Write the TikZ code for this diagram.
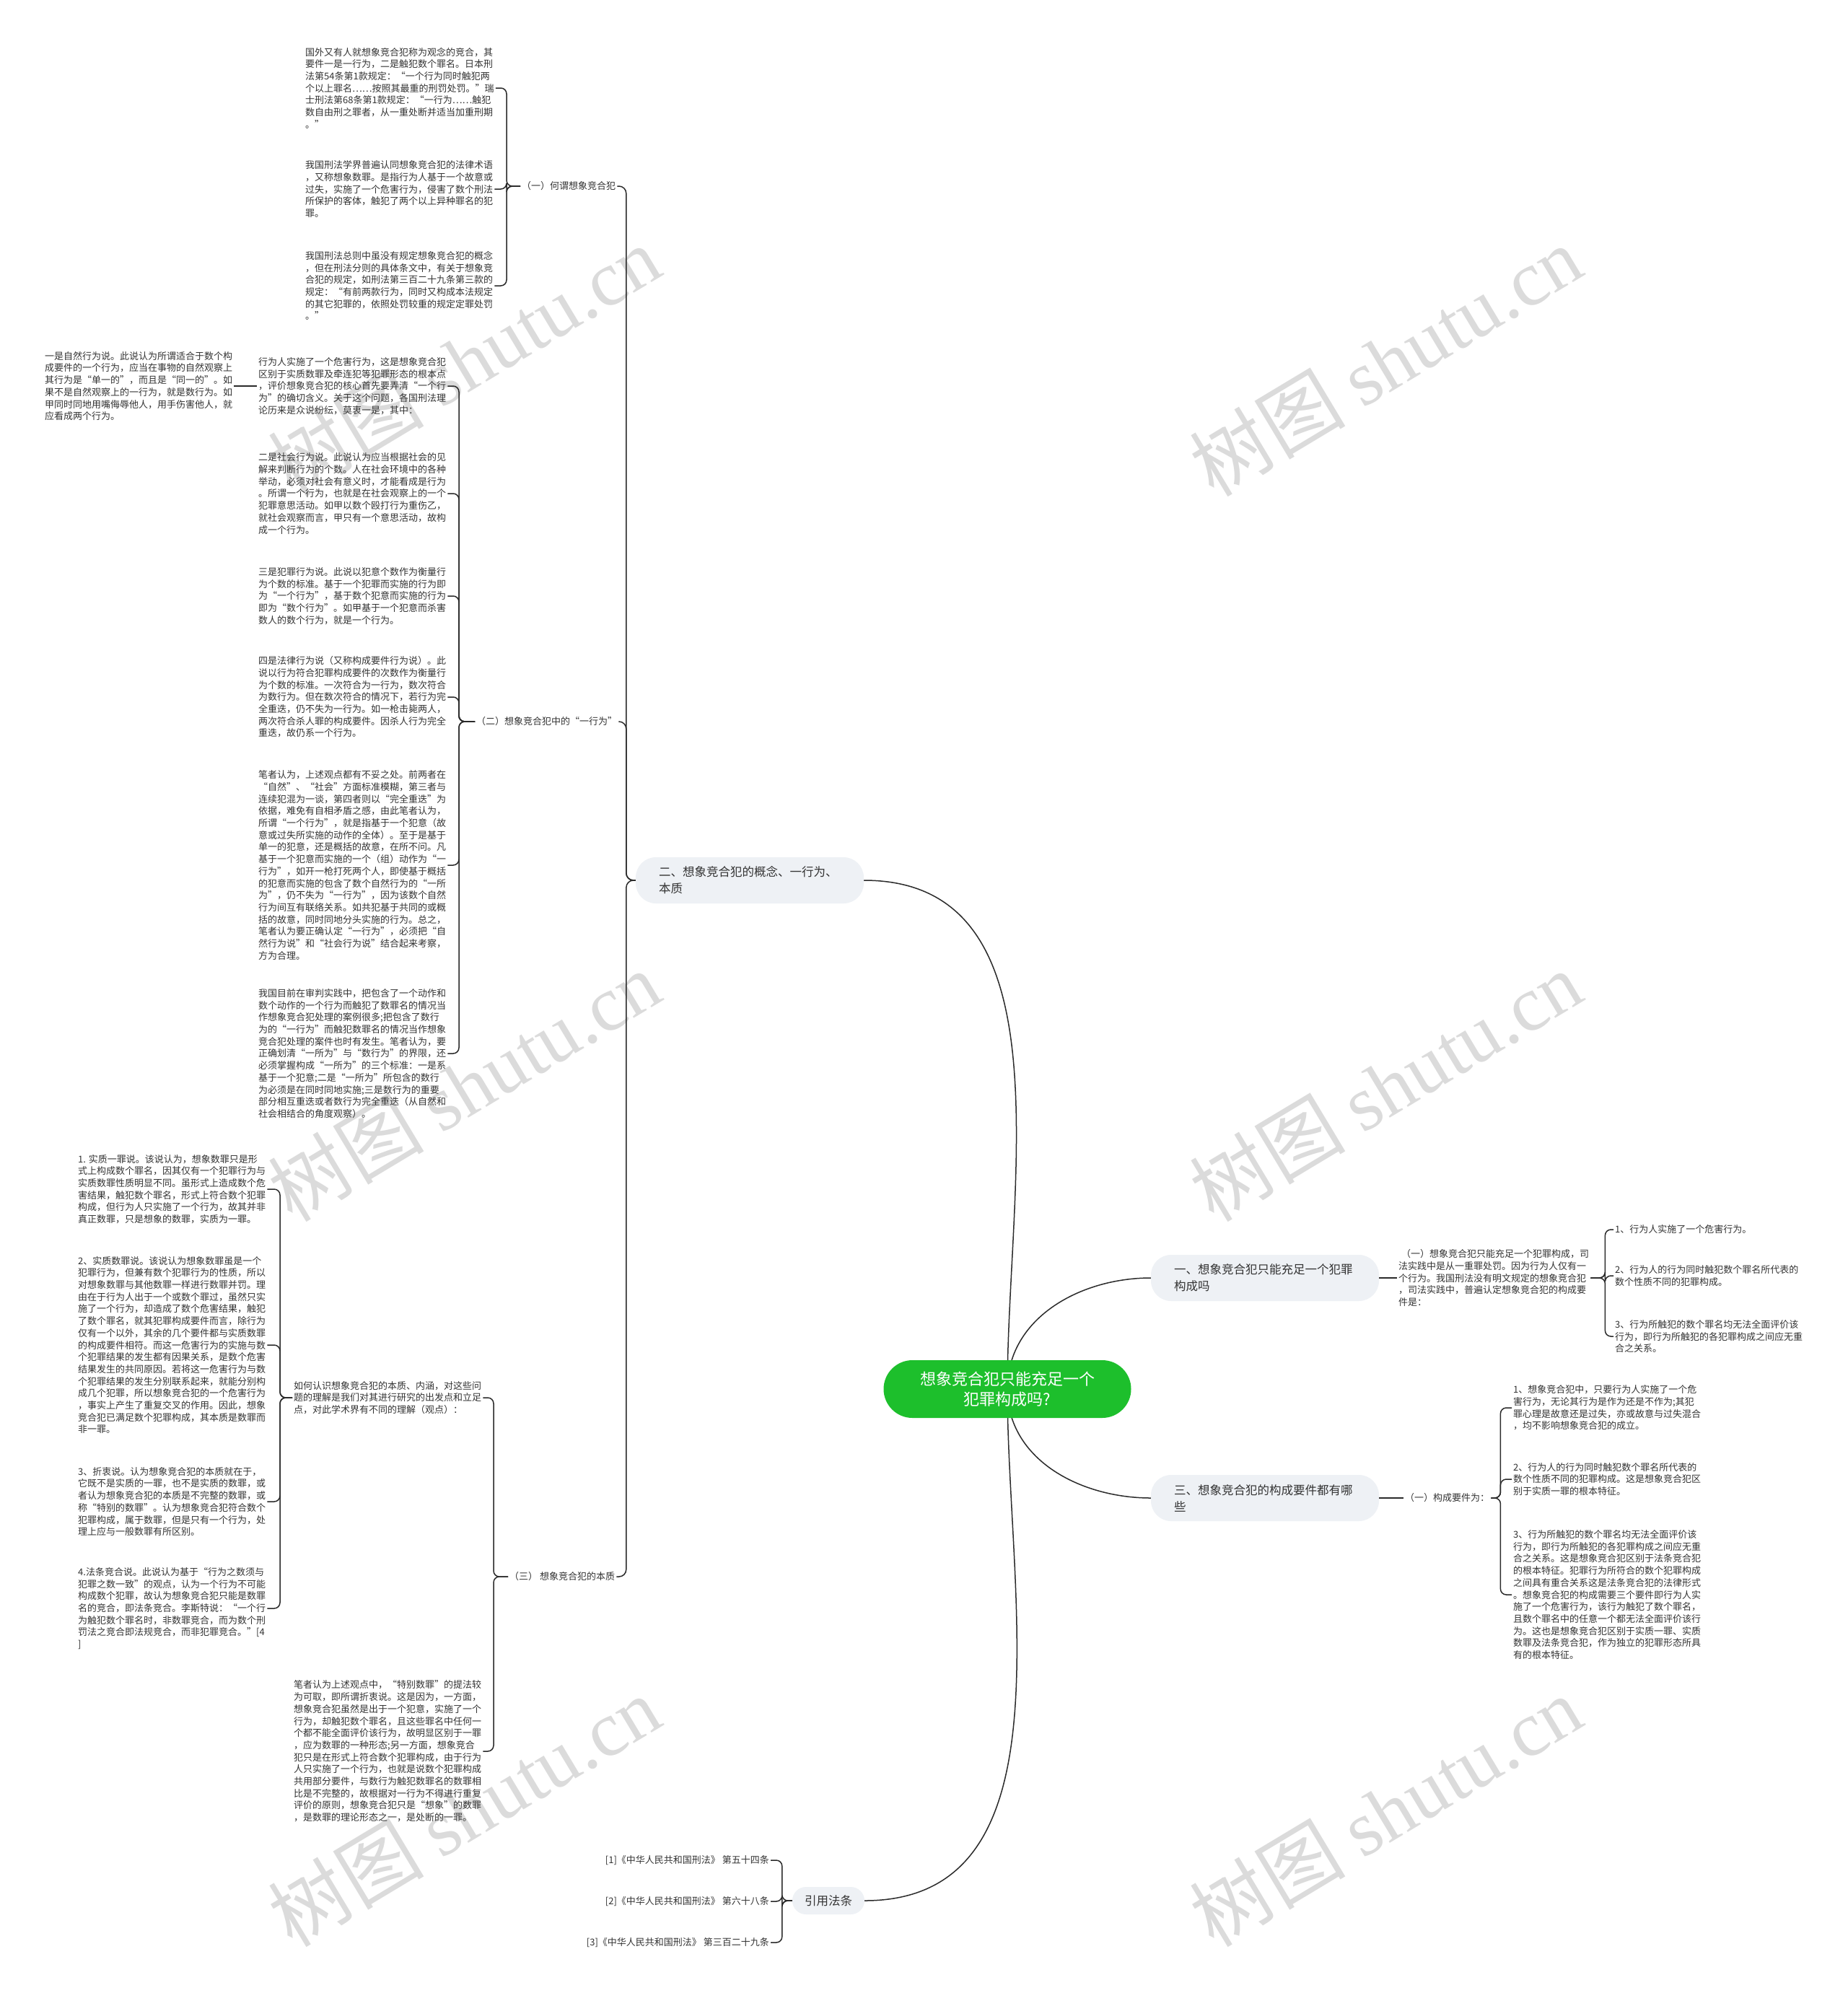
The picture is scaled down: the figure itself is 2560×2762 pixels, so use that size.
\documentclass[tikz,border=0pt]{standalone}
\usepackage{fontspec}
\setmainfont{Noto Sans CJK SC}
\newfontfamily\wmfont{Liberation Serif}
\usetikzlibrary{backgrounds}
\definecolor{rootgreen}{HTML}{1DBF2C}
\definecolor{topicfill}{HTML}{EEF1F5}
\definecolor{inkc}{HTML}{333333}
\definecolor{linec}{HTML}{2A2A2A}

\begin{document}
\begin{tikzpicture}[x=1pt, y=-1pt,
		root/.style={rectangle, rounded corners=40pt, fill=rootgreen, text=white, align=center, minimum width=343pt, minimum height=80pt, font=\fontsize{22}{28}\selectfont},
		topic/.style={rectangle, rounded corners=28pt, fill=topicfill, text=inkc, text width=252pt, align=left, inner xsep=32pt, minimum height=64pt, font=\fontsize{16.5}{23}\selectfont},
		tag/.style={rectangle, rounded corners=19pt, fill=topicfill, text=inkc, inner xsep=17pt, minimum height=38pt, font=\fontsize{16.5}{23}\selectfont},
		leaf/.style={align=left, inner sep=2pt, text=inkc, font=\fontsize{13}{16.7}\selectfont},
		link/.style={draw=linec, line width=1.5pt},
		bracket/.style={draw=linec, line width=1.5pt, rounded corners=8pt},
		wmark/.style={rotate=31, text=black, opacity=0.14, font=\fontsize{108}{108}\selectfont}
		]
		\useasboundingbox (0,0) rectangle (2560,2762);
		
		% Nodes
		\node (root) [root] at (1396,1925) {想象竞合犯只能充足一个\\犯罪构成吗?};
		\node (l1a) [topic] at (1753,1771) {一、想象竞合犯只能充足一个犯罪\\构成吗};
		\node (l1b) [topic] at (1039,1220) {二、想象竞合犯的概念、一行为、\\本质};
		\node (l1c) [topic] at (1753,2076) {三、想象竞合犯的构成要件都有哪\\些};
		\node (l1d) [tag] at (1148,2634) {引用法条};
		
		% (一) 何谓想象竞合犯
		\node (p1) [leaf, anchor=west] at (721,258) {（一）何谓想象竞合犯};
		\node (a1) [leaf, anchor=west] at (421,122) {国外又有人就想象竞合犯称为观念的竞合，其\\要件一是一行为，二是触犯数个罪名。日本刑\\法第54条第1款规定：“一个行为同时触犯两\\个以上罪名……按照其最重的刑罚处罚。”瑞\\士刑法第68条第1款规定：“一行为……触犯\\数自由刑之罪者，从一重处断并适当加重刑期\\。”};
		\node (a2) [leaf, anchor=west] at (421,262) {我国刑法学界普遍认同想象竞合犯的法律术语\\，又称想象数罪。是指行为人基于一个故意或\\过失，实施了一个危害行为，侵害了数个刑法\\所保护的客体，触犯了两个以上异种罪名的犯\\罪。};
		\node (a3) [leaf, anchor=west] at (421,396) {我国刑法总则中虽没有规定想象竞合犯的概念\\，但在刑法分则的具体条文中，有关于想象竞\\合犯的规定，如刑法第三百二十九条第三款的\\规定：“有前两款行为，同时又构成本法规定\\的其它犯罪的，依照处罚较重的规定定罪处罚\\。”};
		
		% (二) 想象竞合犯中的“一行为”
		\node (p2) [leaf, anchor=west] at (658,1000) {（二）想象竞合犯中的“一行为”};
		\node (b1) [leaf, anchor=west] at (356,535) {行为人实施了一个危害行为，这是想象竞合犯\\区别于实质数罪及牵连犯等犯罪形态的根本点\\，评价想象竞合犯的核心首先要弄清“一个行\\为”的确切含义。关于这个问题，各国刑法理\\论历来是众说纷纭，莫衷一是，其中：};
		\node (b0) [leaf, anchor=west] at (60,535) {一是自然行为说。此说认为所谓适合于数个构\\成要件的一个行为，应当在事物的自然观察上\\其行为是“单一的”，而且是“同一的”。如\\果不是自然观察上的一行为，就是数行为。如\\甲同时同地用嘴侮辱他人，用手伤害他人，就\\应看成两个行为。};
		\node (b2) [leaf, anchor=west] at (356,684) {二是社会行为说。此说认为应当根据社会的见\\解来判断行为的个数。人在社会环境中的各种\\举动，必须对社会有意义时，才能看成是行为\\。所谓一个行为，也就是在社会观察上的一个\\犯罪意思活动。如甲以数个殴打行为重伤乙，\\就社会观察而言，甲只有一个意思活动，故构\\成一个行为。};
		\node (b3) [leaf, anchor=west] at (356,826) {三是犯罪行为说。此说以犯意个数作为衡量行\\为个数的标准。基于一个犯罪而实施的行为即\\为“一个行为”，基于数个犯意而实施的行为\\即为“数个行为”。如甲基于一个犯意而杀害\\数人的数个行为，就是一个行为。};
		\node (b4) [leaf, anchor=west] at (356,966) {四是法律行为说（又称构成要件行为说）。此\\说以行为符合犯罪构成要件的次数作为衡量行\\为个数的标准。一次符合为一行为，数次符合\\为数行为。但在数次符合的情况下，若行为完\\全重迭，仍不失为一行为。如一枪击毙两人，\\两次符合杀人罪的构成要件。因杀人行为完全\\重迭，故仍系一个行为。};
		\node (b5) [leaf, anchor=west] at (356,1199) {笔者认为，上述观点都有不妥之处。前两者在\\“自然”、“社会”方面标准模糊，第三者与\\连续犯混为一谈，第四者则以“完全重迭”为\\依据，难免有自相矛盾之感，由此笔者认为，\\所谓“一个行为”，就是指基于一个犯意（故\\意或过失所实施的动作的全体）。至于是基于\\单一的犯意，还是概括的故意，在所不问。凡\\基于一个犯意而实施的一个（组）动作为“一\\行为”，如开一枪打死两个人，即使基于概括\\的犯意而实施的包含了数个自然行为的“一所\\为”，仍不失为“一行为”，因为该数个自然\\行为间互有联络关系。如共犯基于共同的或概\\括的故意，同时同地分头实施的行为。总之，\\笔者认为要正确认定“一行为”，必须把“自\\然行为说”和“社会行为说”结合起来考察，\\方为合理。};
		\node (b6) [leaf, anchor=west] at (356,1460) {我国目前在审判实践中，把包含了一个动作和\\数个动作的一个行为而触犯了数罪名的情况当\\作想象竞合犯处理的案例很多;把包含了数行\\为的“一行为”而触犯数罪名的情况当作想象\\竞合犯处理的案件也时有发生。笔者认为，要\\正确划清“一所为”与“数行为”的界限，还\\必须掌握构成“一所为”的三个标准：一是系\\基于一个犯意;二是“一所为”所包含的数行\\为必须是在同时同地实施;三是数行为的重要\\部分相互重迭或者数行为完全重迭（从自然和\\社会相结合的角度观察）。};
		
		% (三) 想象竞合犯的本质
		\node (p3) [leaf, anchor=west] at (704,2185) {（三） 想象竞合犯的本质};
		\node (c1) [leaf, anchor=west] at (405,1937) {如何认识想象竞合犯的本质、内涵，对这些问\\题的理解是我们对其进行研究的出发点和立足\\点，对此学术界有不同的理解（观点）：};
		\node (c2) [leaf, anchor=west] at (405,2427) {笔者认为上述观点中，“特别数罪”的提法较\\为可取，即所谓折衷说。这是因为，一方面，\\想象竞合犯虽然是出于一个犯意，实施了一个\\行为，却触犯数个罪名，且这些罪名中任何一\\个都不能全面评价该行为，故明显区别于一罪\\，应为数罪的一种形态;另一方面，想象竞合\\犯只是在形式上符合数个犯罪构成，由于行为\\人只实施了一个行为，也就是说数个犯罪构成\\共用部分要件，与数行为触犯数罪名的数罪相\\比是不完整的，故根据对一行为不得进行重复\\评价的原则，想象竞合犯只是“想象”的数罪\\，是数罪的理论形态之一，是处断的一罪。};
		\node (d1) [leaf, anchor=west] at (106,1648) {1. 实质一罪说。该说认为，想象数罪只是形\\式上构成数个罪名，因其仅有一个犯罪行为与\\实质数罪性质明显不同。虽形式上造成数个危\\害结果，触犯数个罪名，形式上符合数个犯罪\\构成，但行为人只实施了一个行为，故其并非\\真正数罪，只是想象的数罪，实质为一罪。};
		\node (d2) [leaf, anchor=west] at (106,1864) {2、实质数罪说。该说认为想象数罪虽是一个\\犯罪行为，但兼有数个犯罪行为的性质，所以\\对想象数罪与其他数罪一样进行数罪并罚。理\\由在于行为人出于一个或数个罪过，虽然只实\\施了一个行为，却造成了数个危害结果，触犯\\了数个罪名，就其犯罪构成要件而言，除行为\\仅有一个以外，其余的几个要件都与实质数罪\\的构成要件相符。而这一危害行为的实施与数\\个犯罪结果的发生都有因果关系，是数个危害\\结果发生的共同原因。若将这一危害行为与数\\个犯罪结果的发生分别联系起来，就能分别构\\成几个犯罪，所以想象竞合犯的一个危害行为\\，事实上产生了重复交叉的作用。因此，想象\\竞合犯已满足数个犯罪构成，其本质是数罪而\\非一罪。};
		\node (d3) [leaf, anchor=west] at (106,2081) {3、折衷说。认为想象竞合犯的本质就在于，\\它既不是实质的一罪，也不是实质的数罪，或\\者认为想象竞合犯的本质是不完整的数罪，或\\称“特别的数罪”。认为想象竞合犯符合数个\\犯罪构成，属于数罪，但是只有一个行为，处\\理上应与一般数罪有所区别。};
		\node (d4) [leaf, anchor=west] at (106,2229) {4.法条竞合说。此说认为基于“行为之数须与\\犯罪之数一致”的观点，认为一个行为不可能\\构成数个犯罪，故认为想象竞合犯只能是数罪\\名的竞合，即法条竞合。李斯特说：“一个行\\为触犯数个罪名时，非数罪竞合，而为数个刑\\罚法之竞合即法规竞合，而非犯罪竞合。”[4\\]};
		
		% right side
		\node (e1) [leaf, anchor=west] at (1936,1771) {\hspace{4pt}（一）想象竞合犯只能充足一个犯罪构成，司\\法实践中是从一重罪处罚。因为行为人仅有一\\个行为。我国刑法没有明文规定的想象竞合犯\\，司法实践中，普遍认定想象竞合犯的构成要\\件是：};
		\node (f1) [leaf, anchor=west] at (2236,1704) {1、行为人实施了一个危害行为。};
		\node (f2) [leaf, anchor=west] at (2236,1768) {2、行为人的行为同时触犯数个罪名所代表的\\数个性质不同的犯罪构成。};
		\node (f3) [leaf, anchor=west] at (2236,1852) {3、行为所触犯的数个罪名均无法全面评价该\\行为，即行为所触犯的各犯罪构成之间应无重\\合之关系。};
		\node (g0) [leaf, anchor=west] at (1945,2076) {（一）构成要件为：};
		\node (h1) [leaf, anchor=west] at (2095,1951) {1、想象竞合犯中，只要行为人实施了一个危\\害行为，无论其行为是作为还是不作为;其犯\\罪心理是故意还是过失，亦或故意与过失混合\\，均不影响想象竞合犯的成立。};
		\node (h2) [leaf, anchor=west] at (2095,2050) {2、行为人的行为同时触犯数个罪名所代表的\\数个性质不同的犯罪构成。这是想象竞合犯区\\别于实质一罪的根本特征。};
		\node (h3) [leaf, anchor=west] at (2095,2210) {3、行为所触犯的数个罪名均无法全面评价该\\行为，即行为所触犯的各犯罪构成之间应无重\\合之关系。这是想象竞合犯区别于法条竞合犯\\的根本特征。犯罪行为所符合的数个犯罪构成\\之间具有重合关系这是法条竞合犯的法律形式\\。想象竞合犯的构成需要三个要件即行为人实\\施了一个危害行为，该行为触犯了数个罪名，\\且数个罪名中的任意一个都无法全面评价该行\\为。这也是想象竞合犯区别于实质一罪、实质\\数罪及法条竞合犯，作为独立的犯罪形态所具\\有的根本特征。};
		
		% references
		\node (r1) [leaf, anchor=east] at (1068,2578) {[1]《中华人民共和国刑法》 第五十四条};
		\node (r2) [leaf, anchor=east] at (1068,2635) {[2]《中华人民共和国刑法》 第六十八条};
		\node (r3) [leaf, anchor=east] at (1068,2692) {[3]《中华人民共和国刑法》 第三百二十九条};
		
		\begin{scope}[on background layer]
			\fill[white] (0,0) rectangle (2560,2762);
			% watermarks
			\foreach \wx/\wy in {643/500, 1920/500, 643/1505, 1920/1505, 643/2510, 1920/2510}
			\node[wmark] at (\wx,\wy) {树图 {\wmfont shutu.cn}};
			
			% Connectors
			\draw [link] (root.center) to[out=90, in=180] (l1a.west);
			\draw [link] (root.center) to[out=270, in=180] (l1c.west);
			\draw [link] (root.center) to[out=90, in=0] (l1b.east);
			\draw [link] (root.center) to[out=270, in=0] (l1d.east);
		\end{scope}
		
		\foreach \c in {p1, p2, p3}
		\draw [bracket, rounded corners=10pt] (l1b.west) -- ++(-13,0) |- (\c.east);
		\foreach \c in {a1, a2, a3}
		\draw [bracket] (p1.west) -- ++(-19,0) |- (\c.east);
		\foreach \c in {b1, b2, b3, b4, b5, b6}
		\draw [bracket] (p2.west) -- ++(-22,0) |- (\c.east);
		\draw [bracket] (b1.west) -- (b0.east);
		\foreach \c in {c1, c2}
		\draw [bracket] (p3.west) -- ++(-20,0) |- (\c.east);
		\foreach \c in {d1, d2, d3, d4}
		\draw [bracket] (c1.west) -- ++(-17,0) |- (\c.east);
		\draw [bracket] (l1a.east) -- (e1.west);
		\foreach \c in {f1, f2, f3}
		\draw [bracket] (e1.east) -- ++(20,0) |- (\c.west);
		\draw [bracket] (l1c.east) -- (g0.west);
		\foreach \c in {h1, h2, h3}
		\draw [bracket] (g0.east) -- ++(13,0) |- (\c.west);
		\foreach \c in {r1, r2, r3}
		\draw [bracket] (l1d.west) -- ++(-14,0) |- (\c.east);
		
	\end{tikzpicture}
\end{document}
